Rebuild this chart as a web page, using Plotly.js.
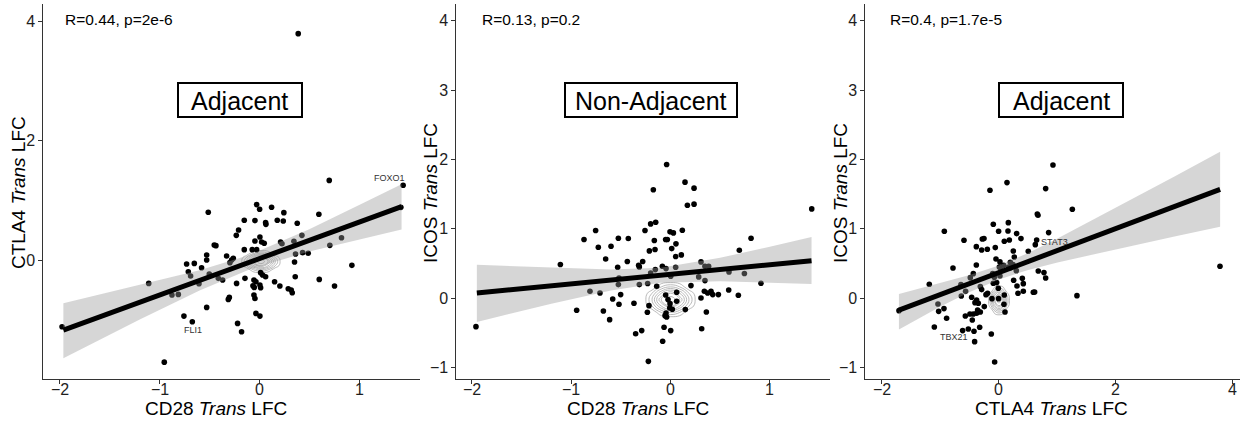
<!DOCTYPE html>
<html>
<head>
<meta charset="utf-8">
<script src="https://cdn.plot.ly/plotly-3.0.1.min.js"></script>
<style>html,body{margin:0;padding:0;background:#fff;}#chart{width:1244px;height:421px;}</style>
</head>
<body>
<div id="chart"></div>
<script>
// ---------- Panel 1: CD28 vs CTLA4 (Adjacent) ----------
const p1x = [0.389,0.70,1.441,1.418,-0.028,0.002,0.122,0.245,-0.513,0.596,-0.152,-0.045,0.062,0.065,0.179,0.239,0.379,-0.209,-0.232,0.005,-0.045,0.022,0.048,-0.453,-0.436,0.426,0.212,0.226,0.346,0.823,0.706,-0.152,-0.072,-0.028,-0.329,-0.279,-0.296,-0.529,0.362,0.433,0.489,-0.529,-0.262,-0.730,-0.653,-0.580,0.352,0.927,-0.713,-0.690,-0.503,-0.412,-0.369,-0.229,-0.145,0.012,0.032,0.062,-0.055,-0.035,0.359,0.600,0.753,0.152,0.205,0.289,0.319,0.329,0.005,0.012,-0.065,-0.052,-0.606,-1.110,-0.877,-0.813,-0.302,-0.312,-0.055,-0.045,-0.529,-0.757,-0.673,-0.035,0.005,-0.219,-0.179,-1.979,-0.954];
const p1y = [3.79,1.34,1.26,0.89,0.936,0.858,0.891,0.802,0.808,0.774,0.674,0.669,0.635,0.607,0.674,0.663,0.624,0.513,0.423,0.396,0.329,0.312,0.290,0.262,0.251,0.423,0.312,0.284,0.323,0.384,0.256,0.184,0.184,0.184,0.078,0.011,-0.033,0.095,0.111,0.134,0.123,0.011,0.039,-0.056,-0.045,-0.117,-0.022,-0.078,-0.184,-0.256,-0.223,-0.295,-0.323,-0.379,-0.295,-0.200,-0.240,-0.267,-0.323,-0.351,-0.267,-0.312,-0.423,-0.351,-0.423,-0.468,-0.490,-0.535,-0.407,-0.451,-0.418,-0.446,-0.384,-0.379,-0.574,-0.563,-0.613,-0.646,-0.574,-0.630,-0.780,-0.925,-1.019,-0.880,-0.925,-1.047,-1.187,-1.103,-1.694];
const p1bandX = [-1.966,-1.2,-0.6,-0.1,0.5,1.0,1.425];
const p1fit   = [-1.16,-0.695,-0.33,-0.026,0.339,0.643,0.901];
const p1upper = [-0.71,-0.407,-0.161,0.094,0.526,0.931,1.275];
const p1lower = [-1.63,-0.983,-0.499,-0.146,0.152,0.355,0.522];
const p1contX = [-0.201,-0.129,-0.057,0.015,0.087,0.159,0.231];
const p1contY = [-0.222,-0.153,-0.084,-0.015,0.054,0.123,0.192];
const p1ticksX = [-2,-1,0,1];
const p1ticksY = [0,2,4];

// ---------- Panel 2: CD28 vs ICOS (Non-Adjacent) ----------
const p2x = [1.422,-0.039,0.146,0.237,-0.173,0.170,0.237,-0.149,-0.200,-0.257,-0.754,-0.871,-0.525,-0.425,-0.727,-0.599,-0.163,-0.049,-0.032,-0.005,0.029,0.119,-0.213,-0.156,0.012,0.055,0.052,0.109,0.811,0.693,-0.653,-0.435,-0.321,-0.314,-0.280,-1.109,-0.532,-0.082,-0.045,0.052,0.307,0.347,0.384,0.589,0.744,-0.200,-0.153,0.002,0.284,0.347,-0.519,-0.525,-0.314,-0.230,-0.139,0.206,0.911,-0.811,-0.710,-0.502,-0.582,-0.519,-0.368,-0.217,-0.233,-0.945,-0.676,-0.613,-0.049,-0.025,-0.005,-0.008,0.062,0.062,-0.045,-0.055,-0.039,0.018,0.149,0.341,0.374,0.408,0.425,0.482,0.307,0.361,0.586,0.683,-1.959,-0.351,-0.290,-0.065,0.002,0.314,-0.079,-0.223];
const p2y = [1.288,1.928,1.673,1.587,1.563,1.341,1.356,1.096,1.072,0.976,0.976,0.846,0.865,0.861,0.736,0.750,0.832,0.846,0.846,0.957,0.942,0.981,0.683,0.702,0.716,0.784,0.601,0.625,0.865,0.692,0.567,0.529,0.476,0.452,0.529,0.486,0.447,0.462,0.428,0.447,0.524,0.462,0.462,0.380,0.356,0.365,0.413,0.317,0.308,0.255,0.293,0.197,0.197,0.212,0.173,0.183,0.216,0.101,0.077,0.053,-0.010,-0.087,-0.072,-0.106,-0.202,-0.173,-0.183,-0.308,0.048,-0.019,-0.077,-0.139,0.087,-0.043,-0.212,-0.250,-0.269,-0.159,-0.163,0.101,0.077,0.101,0.053,0.053,0.005,-0.197,0.120,0.043,-0.409,-0.510,-0.466,-0.418,-0.466,-0.438,-0.620,-0.909];
const p2bandX = [-1.95,-1.2,-0.6,-0.1,0.5,1.0,1.42];
const p2fit   = [0.077,0.180,0.263,0.332,0.415,0.484,0.542];
const p2upper = [0.482,0.439,0.415,0.44,0.583,0.743,0.884];
const p2lower = [-0.34,-0.079,0.111,0.224,0.247,0.225,0.205];
const p2contX = [-0.279,-0.186,-0.093,0,0.093,0.186,0.279];
const p2contY = [-0.296,-0.204,-0.112,-0.02,0.072,0.164,0.256];
const p2ticksX = [-2,-1,0,1];
const p2ticksY = [-1,0,1,2,3,4];

// ---------- Panel 3: CTLA4 vs ICOS (Adjacent) ----------
const p3x = [0.923,0.137,-0.154,0.798,1.254,0.655,0.667,-0.934,-0.097,0.160,-0.006,0.154,0.302,-0.598,-0.285,-0.256,0.091,0.177,0.376,0.849,0.621,0.644,-0.387,-0.296,-0.199,-0.063,0.245,0.501,0.262,-0.051,0.017,0.080,0.006,0.194,0.239,-0.786,-0.387,-0.490,-0.439,0.165,0.199,0.296,-0.108,-0.080,0.034,0.017,0.672,0.769,0.798,0.251,0.399,0.416,0.308,0.325,0.416,0.587,0.610,1.333,-1.191,-0.650,-0.644,-0.570,-0.319,-0.296,-0.097,-0.040,-0.011,-0.467,-0.410,-0.353,-0.382,-0.222,-0.194,-0.120,-0.006,0.091,0.085,0.103,-0.251,-0.319,-0.365,-0.382,-0.496,-0.439,-0.575,-1.043,-1.031,-0.940,-0.895,-0.456,-0.330,-0.621,-0.524,-0.427,-1.105,-0.131,-0.416,-0.074,-1.709,3.778];
const p3y = [1.921,1.667,1.556,1.580,1.282,1.215,1.196,0.965,1.066,1.090,0.965,0.970,0.932,0.836,0.855,0.860,0.821,0.840,0.860,0.946,0.773,0.840,0.744,0.696,0.706,0.730,0.682,0.677,0.595,0.567,0.524,0.475,0.451,0.519,0.485,0.437,0.480,0.297,0.355,0.451,0.442,0.398,0.355,0.302,0.408,0.322,0.394,0.370,0.293,0.259,0.288,0.211,0.177,0.072,0.101,0.086,0.091,0.038,0.202,0.197,0.033,0.100,0.168,0.125,0.216,0.226,0.144,0.014,-0.063,-0.072,-0.024,0.052,0.072,-0.005,-0.005,0.048,-0.087,-0.197,-0.120,-0.197,-0.168,-0.216,-0.226,-0.226,-0.255,-0.082,-0.188,-0.149,-0.288,-0.312,-0.418,-0.466,-0.442,-0.476,-0.413,-0.514,-0.625,-0.918,-0.178,0.462];
const p3bandX = [-1.71,-1.0,-0.5,0,0.5,1.0,2.0,3.0,3.78];
const p3fit   = [-0.17,0.055,0.214,0.372,0.531,0.689,1.006,1.323,1.57];
const p3upper = [0.06,0.227,0.336,0.472,0.653,0.861,1.304,1.756,2.11];
const p3lower = [-0.45,-0.117,0.092,0.272,0.409,0.517,0.708,0.89,1.03];
const p3contX = [-0.201,-0.134,-0.067,0,0.067,0.134,0.201];
const p3contY = [-0.264,-0.186,-0.108,-0.03,0.048,0.126,0.204];
const p3ticksX = [-2,0,2,4];
const p3ticksY = [-1,0,1,2,3,4];

// shared density grid (estimated)
const densityZ = [
  [0,0,1,1,1,0,0],
  [0,1,3,4,3,1,0],
  [1,3,6,8,6,3,1],
  [1,4,8,10,8,4,1],
  [1,3,6,8,6,3,1],
  [0,1,3,4,3,1,0],
  [0,0,1,1,1,0,0]
];

const panelLabels = ["Adjacent","Non-Adjacent","Adjacent"];
const statLabels = ["R=0.44, p=2e-6","R=0.13, p=0.2","R=0.4, p=1.7e-5"];
const xTitles = ["CD28 <i>Trans</i> LFC","CD28 <i>Trans</i> LFC","CTLA4 <i>Trans</i> LFC"];
const yTitles = ["CTLA4 <i>Trans</i> LFC","ICOS <i>Trans</i> LFC","ICOS <i>Trans</i> LFC"];
const geneNames = ["FOXO1","FLI1","STAT3","TBX21"];
const geneX = [1.308,-0.671,0.957,-0.774];
const geneY = [1.38,-1.157,0.811,-0.558];
const genePanel = [1,1,3,3];

// ---------- layout helpers ----------
const W = 1244, H = 421;
const px = v => v / W;
const py = v => 1 - v / H;
const FONT = "Liberation Sans, Arial, Helvetica, sans-serif";
const fmt = v => (v < 0 ? '\u2212' + Math.abs(v) : String(v));

const panels = [
  {x:p1x,y:p1y,bx:p1bandX,fit:p1fit,up:p1upper,lo:p1lower,cx:p1contX,cy:p1contY,tx:p1ticksX,ty:p1ticksY},
  {x:p2x,y:p2y,bx:p2bandX,fit:p2fit,up:p2upper,lo:p2lower,cx:p2contX,cy:p2contY,tx:p2ticksX,ty:p2ticksY},
  {x:p3x,y:p3y,bx:p3bandX,fit:p3fit,up:p3upper,lo:p3lower,cx:p3contX,cy:p3contY,tx:p3ticksX,ty:p3ticksY}
];

const traces = [];
panels.forEach((p, i) => {
  const xa = i === 0 ? 'x' : 'x' + (i + 1);
  const ya = i === 0 ? 'y' : 'y' + (i + 1);
  traces.push({type:'scatter', mode:'markers', x:p.x, y:p.y, xaxis:xa, yaxis:ya,
    marker:{color:'#000', size:5.6, line:{width:0}}, hoverinfo:'skip', showlegend:false});
  traces.push({type:'contour', x:p.cx, y:p.cy, z:densityZ, xaxis:xa, yaxis:ya,
    contours:{coloring:'none', start:2, end:9.5, size:1},
    line:{color:'#a8a8a8', width:0.8, smoothing:1.3}, showscale:false, hoverinfo:'skip'});
  traces.push({type:'scatter', mode:'lines', xaxis:xa, yaxis:ya,
    x:p.bx.concat(p.bx.slice().reverse()), y:p.up.concat(p.lo.slice().reverse()),
    fill:'toself', fillcolor:'rgba(153,153,153,0.4)', line:{width:0, color:'rgba(0,0,0,0)'},
    hoverinfo:'skip', showlegend:false});
  traces.push({type:'scatter', mode:'lines', x:[p.bx[0], p.bx[p.bx.length-1]], y:[p.fit[0], p.fit[p.fit.length-1]],
    xaxis:xa, yaxis:ya, line:{color:'#000', width:5}, hoverinfo:'skip', showlegend:false});
});

const axisBase = {
  showgrid:false, zeroline:false, showline:true, linecolor:'#333', linewidth:1.1,
  ticks:'outside', ticklen:3.5, tickwidth:1, tickcolor:'#333',
  tickfont:{family:FONT, size:16, color:'#1e1e1e'}, fixedrange:true
};
const yDom = [py(379), py(4)];
const layout = {
  width:W, height:H, margin:{l:0,r:0,t:0,b:0}, paper_bgcolor:'#fff', plot_bgcolor:'rgba(0,0,0,0)',
  showlegend:false, font:{family:FONT},
  xaxis: Object.assign({}, axisBase, {domain:[px(43), px(420)], range:[-2.17,1.61], tickvals:p1ticksX, showticklabels:false, anchor:'y'}),
  yaxis: Object.assign({}, axisBase, {domain:yDom, range:[-1.975,4.285], tickvals:p1ticksY, anchor:'x'}),
  xaxis2: Object.assign({}, axisBase, {domain:[px(456), px(830)], range:[-2.16,1.606], tickvals:p2ticksX, showticklabels:false, anchor:'y2'}),
  yaxis2: Object.assign({}, axisBase, {domain:yDom, range:[-1.163,4.24], tickvals:p2ticksY, anchor:'x2'}),
  xaxis3: Object.assign({}, axisBase, {domain:[px(865), px(1240)], range:[-2.29,4.12], tickvals:p3ticksX, showticklabels:false, anchor:'y3'}),
  yaxis3: Object.assign({}, axisBase, {domain:yDom, range:[-1.163,4.24], tickvals:p3ticksY, anchor:'x3'}),
  shapes: [], annotations: []
};

const boxes = [[178,302],[565,737],[999,1123]];
const xTitleCx = [216, 638, 1051];
const yTitleCx = [18, 430, 840];
const statX = [62.7, 480, 887.7];
panels.forEach((p, i) => {
  const xa = i === 0 ? 'x' : 'x' + (i + 1);
  p.tx.forEach(v => {
    layout.annotations.push({xref:xa, yref:'paper', x:v, y:py(389), text:fmt(v), showarrow:false,
      xanchor:'center', yanchor:'middle', font:{family:FONT, size:16, color:'#1e1e1e'}});
  });
});
boxes.forEach((b, i) => {
  layout.shapes.push({type:'rect', xref:'paper', yref:'paper', x0:px(b[0]), x1:px(b[1]), y0:py(117), y1:py(83),
    line:{color:'#000', width:2}, fillcolor:'#fff', layer:'above'});
  layout.annotations.push({xref:'paper', yref:'paper', x:px((b[0]+b[1])/2), y:py(100.5), text:panelLabels[i],
    showarrow:false, xanchor:'center', yanchor:'middle', font:{family:FONT, size:25, color:'#000'}});
  layout.annotations.push({xref:'paper', yref:'paper', x:px(statX[i]), y:py(19), text:statLabels[i],
    showarrow:false, xanchor:'left', yanchor:'middle', font:{family:FONT, size:15.5, color:'#000'}});
  layout.annotations.push({xref:'paper', yref:'paper', x:px(xTitleCx[i]), y:py(408), text:xTitles[i],
    showarrow:false, xanchor:'center', yanchor:'middle', font:{family:FONT, size:19, color:'#000'}});
  layout.annotations.push({xref:'paper', yref:'paper', x:px(yTitleCx[i]), y:py(193), text:yTitles[i], textangle:-90,
    showarrow:false, xanchor:'center', yanchor:'middle', font:{family:FONT, size:19, color:'#000'}});
});
geneNames.forEach((g, i) => {
  const k = genePanel[i];
  layout.annotations.push({xref: k === 1 ? 'x' : 'x' + k, yref: k === 1 ? 'y' : 'y' + k, x:geneX[i], y:geneY[i],
    text:g, showarrow:false, xanchor:'center', yanchor:'middle', font:{family:FONT, size:9, color:'#333'}});
});

Plotly.newPlot('chart', traces, layout, {displayModeBar:false, staticPlot:true});
</script>
</body>
</html>
